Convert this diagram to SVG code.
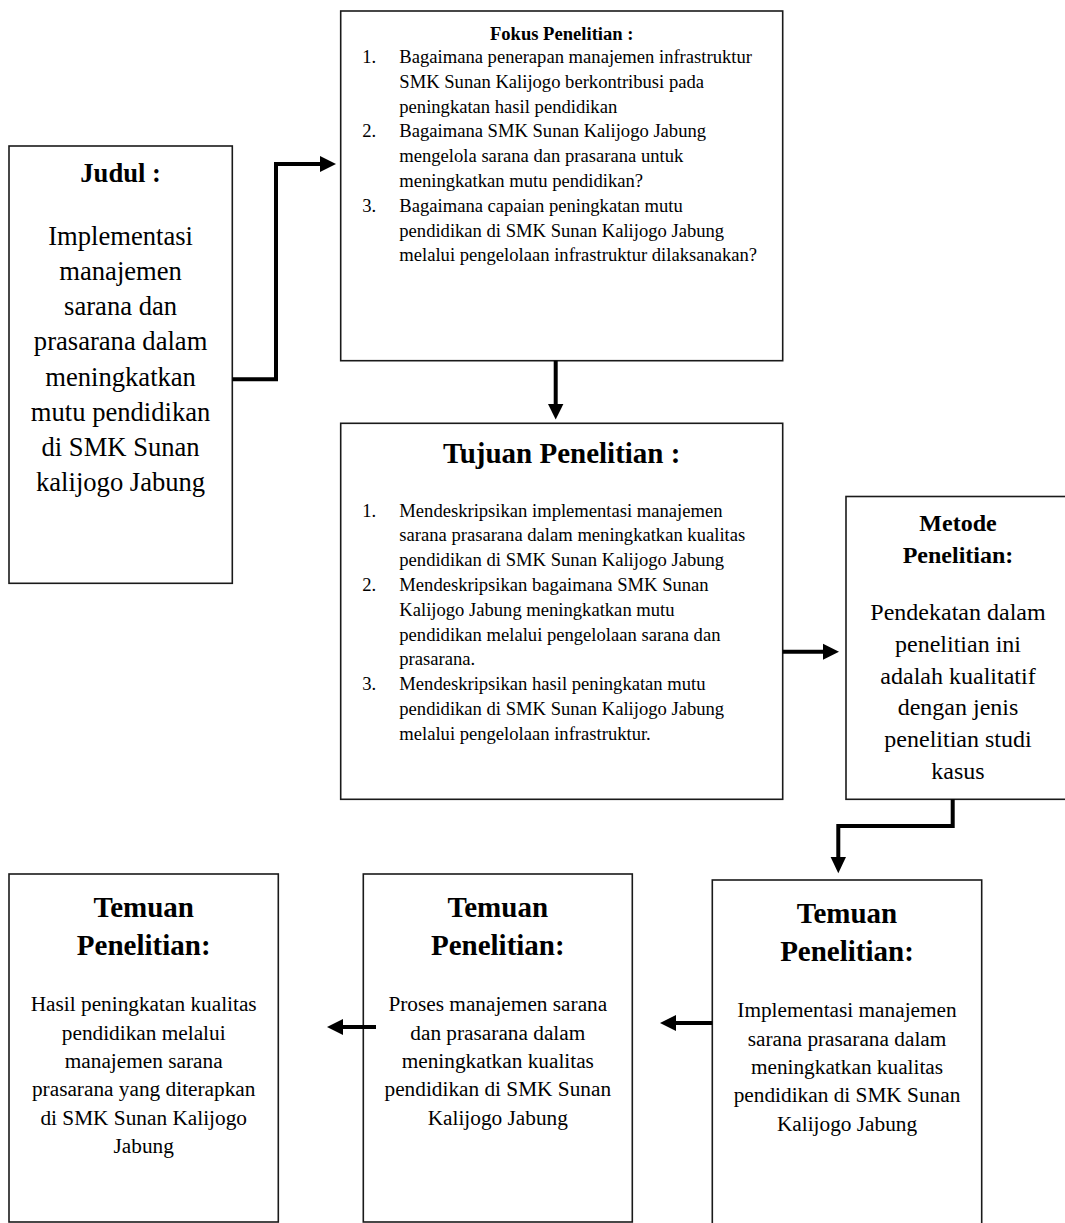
<svg xmlns="http://www.w3.org/2000/svg" width="1065" height="1223" viewBox="0 0 1065 1223">
<style>
.box{fill:#fff;stroke:#1a1a1a;stroke-width:1.6}
text{font-family:"Liberation Serif","Times New Roman",serif;fill:#000}
.b{font-weight:bold}
.c{text-anchor:middle}
.conn{fill:none;stroke:#000;stroke-width:4;stroke-linejoin:miter}
.head{fill:#000;stroke:none}
.f18{font-size:18.6px}
.f21{font-size:21.3px}
.f24{font-size:24px}
.f26{font-size:26.6px}
.f29{font-size:29px}
</style>
<rect width="1065" height="1223" fill="#fff"/>

<g id="judul">
<rect class="box" x="9" y="146" width="223.3" height="437.3"/>
<text class="b c f26" x="120.6" y="182">Judul :</text>
<g class="c f26">
<text x="120.6" y="244.7">Implementasi</text>
<text x="120.6" y="279.9">manajemen</text>
<text x="120.6" y="315.1">sarana dan</text>
<text x="120.6" y="350.3">prasarana dalam</text>
<text x="120.6" y="385.5">meningkatkan</text>
<text x="120.6" y="420.7">mutu pendidikan</text>
<text x="120.6" y="455.9">di SMK Sunan</text>
<text x="120.6" y="491.1">kalijogo Jabung</text>
</g>
</g>

<g id="fokus">
<rect class="box" x="340.7" y="11" width="442" height="349.7"/>
<text class="b c f18" x="561.7" y="39.8">Fokus Penelitian :</text>
<g class="f18">
<text x="362.3" y="63">1.</text>
<text x="399.3" y="63">Bagaimana penerapan manajemen infrastruktur</text>
<text x="399.3" y="87.8">SMK Sunan Kalijogo berkontribusi pada</text>
<text x="399.3" y="112.6">peningkatan hasil pendidikan</text>
<text x="362.3" y="137.4">2.</text>
<text x="399.3" y="137.4">Bagaimana SMK Sunan Kalijogo Jabung</text>
<text x="399.3" y="162.2">mengelola sarana dan prasarana untuk</text>
<text x="399.3" y="187">meningkatkan mutu pendidikan?</text>
<text x="362.3" y="211.8">3.</text>
<text x="399.3" y="211.8">Bagaimana capaian peningkatan mutu</text>
<text x="399.3" y="236.6">pendidikan di SMK Sunan Kalijogo Jabung</text>
<text x="399.3" y="261.4">melalui pengelolaan infrastruktur dilaksanakan?</text>
</g>
</g>

<g id="tujuan">
<rect class="box" x="340.7" y="423.3" width="442" height="376"/>
<text class="b c f29" x="561.7" y="462.5">Tujuan Penelitian :</text>
<g class="f18">
<text x="362.3" y="516.6">1.</text>
<text x="399.3" y="516.6">Mendeskripsikan implementasi manajemen</text>
<text x="399.3" y="541.4">sarana prasarana dalam meningkatkan kualitas</text>
<text x="399.3" y="566.2">pendidikan di SMK Sunan Kalijogo Jabung</text>
<text x="362.3" y="591">2.</text>
<text x="399.3" y="591">Mendeskripsikan bagaimana SMK Sunan</text>
<text x="399.3" y="615.8">Kalijogo Jabung meningkatkan mutu</text>
<text x="399.3" y="640.6">pendidikan melalui pengelolaan sarana dan</text>
<text x="399.3" y="665.4">prasarana.</text>
<text x="362.3" y="690.2">3.</text>
<text x="399.3" y="690.2">Mendeskripsikan hasil peningkatan mutu</text>
<text x="399.3" y="715">pendidikan di SMK Sunan Kalijogo Jabung</text>
<text x="399.3" y="739.8">melalui pengelolaan infrastruktur.</text>
</g>
</g>

<g id="metode">
<rect class="box" x="846" y="496.5" width="240" height="302.8"/>
<g class="b c f24">
<text x="958" y="531">Metode</text>
<text x="958" y="563">Penelitian:</text>
</g>
<g class="c f24">
<text x="958" y="620.2">Pendekatan dalam</text>
<text x="958" y="651.9">penelitian ini</text>
<text x="958" y="683.6">adalah kualitatif</text>
<text x="958" y="715.3">dengan jenis</text>
<text x="958" y="747">penelitian studi</text>
<text x="958" y="778.7">kasus</text>
</g>
</g>

<g id="temuan3">
<rect class="box" x="712.3" y="880" width="269.4" height="360"/>
<g class="b c f29">
<text x="847" y="922.7">Temuan</text>
<text x="847" y="961">Penelitian:</text>
</g>
<g class="c f21">
<text x="847" y="1017.4">Implementasi manajemen</text>
<text x="847" y="1045.7">sarana prasarana dalam</text>
<text x="847" y="1074">meningkatkan kualitas</text>
<text x="847" y="1102.3">pendidikan di SMK Sunan</text>
<text x="847" y="1130.7">Kalijogo Jabung</text>
</g>
</g>

<g id="temuan2">
<rect class="box" x="363.3" y="874" width="269" height="348"/>
<g class="b c f29">
<text x="497.8" y="916.7">Temuan</text>
<text x="497.8" y="955">Penelitian:</text>
</g>
<g class="c f21">
<text x="497.8" y="1011.4">Proses manajemen sarana</text>
<text x="497.8" y="1039.7">dan prasarana dalam</text>
<text x="497.8" y="1068">meningkatkan kualitas</text>
<text x="497.8" y="1096.3">pendidikan di SMK Sunan</text>
<text x="497.8" y="1124.7">Kalijogo Jabung</text>
</g>
</g>

<g id="temuan1">
<rect class="box" x="9" y="874" width="269.3" height="348"/>
<g class="b c f29">
<text x="143.7" y="916.7">Temuan</text>
<text x="143.7" y="955">Penelitian:</text>
</g>
<g class="c f21">
<text x="143.7" y="1011.4">Hasil peningkatan kualitas</text>
<text x="143.7" y="1039.7">pendidikan melalui</text>
<text x="143.7" y="1068">manajemen sarana</text>
<text x="143.7" y="1096.3">prasarana yang diterapkan</text>
<text x="143.7" y="1124.7">di SMK Sunan Kalijogo</text>
<text x="143.7" y="1153">Jabung</text>
</g>
</g>

<g id="connectors">
<polyline class="conn" points="232.3,379.3 276,379.3 276,164 321,164"/>
<polygon class="head" points="320,156 336,164 320,172"/>
<line class="conn" x1="555.7" y1="360.7" x2="555.7" y2="405"/>
<polygon class="head" points="548,404 563.4,404 555.7,419.5"/>
<line class="conn" x1="782.7" y1="651.7" x2="824" y2="651.7"/>
<polygon class="head" points="823,643.7 839,651.7 823,659.7"/>
<polyline class="conn" points="952.7,799.3 952.7,826 838.3,826 838.3,858"/>
<polygon class="head" points="830.6,857 846,857 838.3,873.3"/>
<line class="conn" x1="712.3" y1="1023" x2="675" y2="1023"/>
<polygon class="head" points="676,1015 660,1023 676,1031"/>
<line class="conn" x1="376" y1="1027" x2="342" y2="1027"/>
<polygon class="head" points="343,1019 327,1027 343,1035"/>
</g>
</svg>
